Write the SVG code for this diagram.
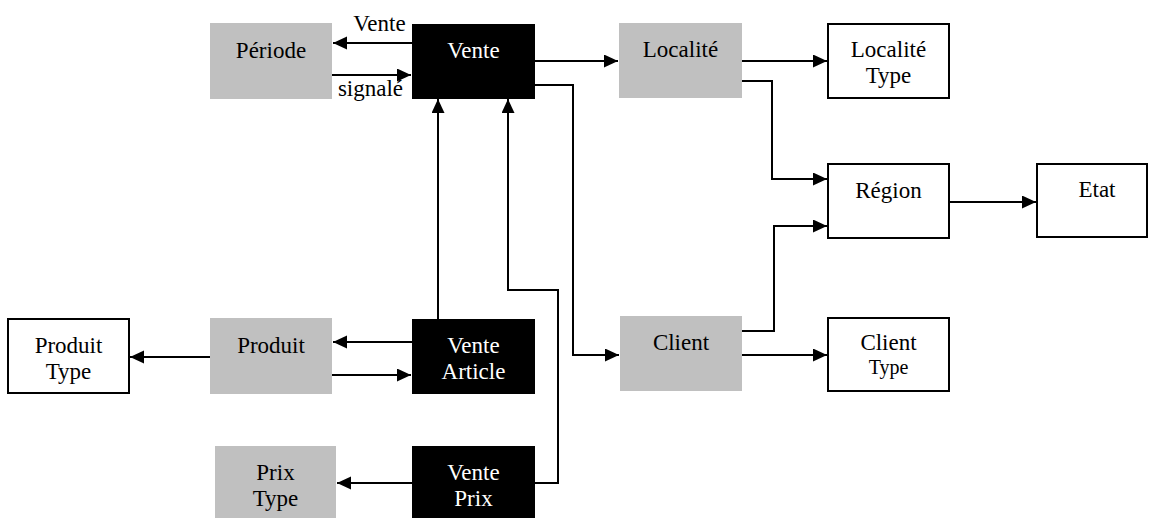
<svg xmlns="http://www.w3.org/2000/svg" width="1149" height="518" viewBox="0 0 1149 518">
<style>
.g{fill:#c0c0c0;stroke:none}
.b{fill:#000;stroke:none}
.w{fill:#fff;stroke:#000;stroke-width:2}
text{font-family:'Liberation Serif','DejaVu Serif',serif;font-size:23px;text-anchor:middle;fill:#000}
.wt{fill:#fff}
#connectors path{fill:none;stroke:#000;stroke-width:2;marker-end:url(#ah)}
</style>
<defs>
<marker id="ah" markerUnits="userSpaceOnUse" markerWidth="15" markerHeight="14" refX="14" refY="6.5" orient="auto">
<path d="M0,0 L14,6.5 L0,13 z" fill="#000"/>
</marker>
</defs>
<rect width="1149" height="518" fill="#fff"/>
<g id="connectors">
<path d="M412,43 H333"/>
<path d="M332,75 H411"/>
<path d="M535,61 H618"/>
<path d="M535,85 H573 V355 H619"/>
<path d="M742,61 H827"/>
<path d="M742,81 H772 V179 H827"/>
<path d="M742,331 H774 V226 H827"/>
<path d="M949,202 H1036"/>
<path d="M742,355 H827"/>
<path d="M438,319 V99"/>
<path d="M412,342 H333"/>
<path d="M332,375 H411"/>
<path d="M210,357 H130"/>
<path d="M535,483 H558 V290 H508 V99"/>
<path d="M412,483 H337"/>
</g>
<g font-family="Liberation Serif, serif">
<g id="periode"><rect class="g" x="210" y="23" width="122" height="76"/><text x="271" y="58">Période</text></g>
<g id="vente"><rect class="b" x="412" y="24" width="123" height="75"/><text class="wt" x="473.5" y="58">Vente</text></g>
<g id="label-vente"><text x="379.5" y="31">Vente</text></g>
<g id="label-signale"><text x="370.5" y="96">signalé</text></g>
<g id="localite"><rect class="g" x="619" y="23" width="123" height="75"/><text x="680.5" y="57">Localité</text></g>
<g id="localite-type"><rect class="w" x="828" y="24" width="121" height="74"/><text x="888.5" y="57">Localité</text><text x="888.5" y="83">Type</text></g>
<g id="region"><rect class="w" x="828" y="164" width="121" height="74"/><text x="888.5" y="198">Région</text></g>
<g id="etat"><rect class="w" x="1037" y="164" width="110" height="73"/><text x="1097" y="197">Etat</text></g>
<g id="client"><rect class="g" x="620" y="316" width="122" height="75"/><text x="681" y="350">Client</text></g>
<g id="client-type"><rect class="w" x="828" y="318" width="121" height="73"/><text x="888.5" y="350">Client</text><text x="888.5" y="374" style="font-size:20px">Type</text></g>
<g id="produit-type"><rect class="w" x="8" y="319" width="121" height="74"/><text x="68.5" y="353">Produit</text><text x="68.5" y="379">Type</text></g>
<g id="produit"><rect class="g" x="210" y="318" width="122" height="76"/><text x="271" y="353">Produit</text></g>
<g id="vente-article"><rect class="b" x="412" y="319" width="123" height="75"/><text class="wt" x="473.5" y="353">Vente</text><text class="wt" x="473.5" y="379">Article</text></g>
<g id="prix-type"><rect class="g" x="215" y="446" width="121" height="75"/><text x="275.5" y="480">Prix</text><text x="275.5" y="506">Type</text></g>
<g id="vente-prix"><rect class="b" x="412" y="446" width="123" height="75"/><text class="wt" x="473.5" y="480">Vente</text><text class="wt" x="473.5" y="506">Prix</text></g>
</g>
</svg>
